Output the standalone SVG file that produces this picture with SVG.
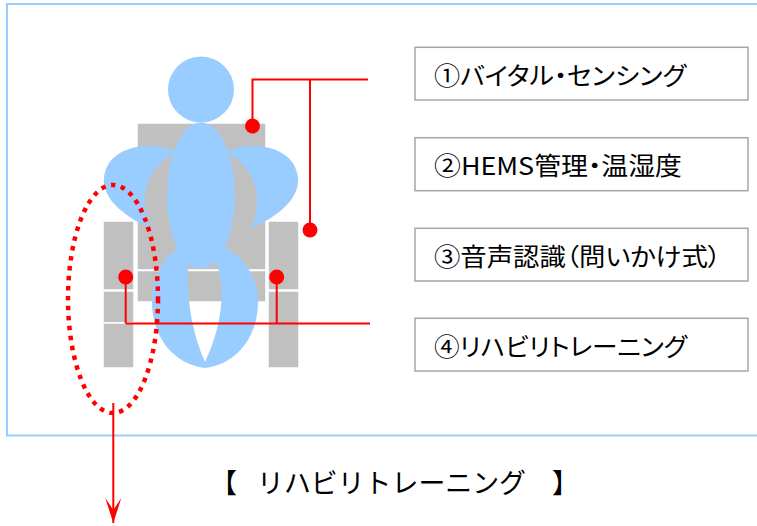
<svg xmlns="http://www.w3.org/2000/svg" width="757" height="526" viewBox="0 0 757 526">
  <defs>
    <style>
      .frame { fill: none; stroke: #99CCFF; stroke-width: 2; }
      .chair { fill: #C0C0C0; stroke: #FFFFFF; stroke-width: 1.5; }
      .body { fill: #99CCFF; stroke: none; }
      .wire { fill: none; stroke: #FF0000; stroke-width: 2; }
      .dot { fill: #FF0000; }
      .box { fill: #FFFFFF; stroke: #A6A6A6; stroke-width: 1.5; }
      .label { font-family: "Noto Sans CJK JP", "Liberation Sans", sans-serif; font-size: 24.5px; fill: #000000; dominant-baseline: central; font-feature-settings: "palt" 1; }
      .title { font-family: "Noto Sans CJK JP", "Liberation Sans", sans-serif; font-size: 27px; fill: #000000; dominant-baseline: central; }
    </style>
    <marker id="arrowhead" markerUnits="userSpaceOnUse" markerWidth="26" markerHeight="18" refX="25" refY="8" orient="auto" viewBox="0 0 26 16">
      <path d="M25 8 L0 0 L12 8 L0 16 Z" fill="#FF0000"/>
    </marker>
  </defs>

  <!-- outer panel -->
  <rect class="frame" x="7" y="4" width="760" height="431.5"/>

  <!-- wheelchair and seated person -->
  <g id="figure">
    <g id="chair">
      <rect class="chair" x="137" y="123" width="129" height="147"/>
      <rect class="chair" x="137" y="270.5" width="129" height="31.5"/>
      <rect class="chair" x="103" y="221" width="31" height="69"/>
      <rect class="chair" x="103" y="291" width="31" height="32"/>
      <rect class="chair" x="103" y="323" width="31" height="45"/>
      <rect class="chair" x="268" y="221" width="31" height="69"/>
      <rect class="chair" x="268" y="291" width="31" height="77"/>
    </g>
    <g id="person">
      <circle class="body" cx="201" cy="89.5" r="33"/>
      <path class="body" d="M226 152 C250 140 295 145 298 178 C300 200 275 218 250 229 C262 210 262 170 226 152 Z"/>
      <path class="body" d="M176 152 C152 140 107 145 104 178 C102 200 127 218 152 229 C140 210 140 170 176 152 Z"/>
      <ellipse class="body" cx="201" cy="195.5" rx="34" ry="73"/>
      <path class="body" fill-rule="evenodd" d="M205 368 C172 364 152 335 152 302 C152 272 168 250 188 243 L214 243 C238 250 258 272 258 302 C258 335 238 364 205 368 Z M188 265 C186 300 193 335 205 362 C220 330 228 290 215 260 Z"/>
    </g>
  </g>

  <!-- connectors -->
  <g id="connectors">
    <polyline class="wire" points="252.5,126 252.5,79.5 368,79.5"/>
    <line class="wire" x1="310" y1="79.5" x2="310" y2="230"/>
    <circle class="dot" cx="252.5" cy="126" r="7.5"/>
    <circle class="dot" cx="310" cy="230" r="7.5"/>
    <line class="wire" x1="125.7" y1="277" x2="125.7" y2="323.5"/>
    <line class="wire" x1="276.7" y1="277" x2="276.7" y2="323.5"/>
    <line class="wire" x1="125.7" y1="323.5" x2="370" y2="323.5"/>
    <circle class="dot" cx="125.7" cy="277" r="7.5"/>
    <circle class="dot" cx="276.7" cy="277" r="7.5"/>
    <ellipse cx="113" cy="299" rx="45" ry="114" fill="none" stroke="#FF0000" stroke-width="4.5" stroke-dasharray="4.5 5.5"/>
    <line class="wire" x1="113.3" y1="403" x2="113.3" y2="523" marker-end="url(#arrowhead)"/>
  </g>

  <!-- feature labels -->
  <g id="label1">
    <rect class="box" x="415" y="47.3" width="333" height="52.7"/>
    <text class="label" x="434" y="74" textLength="252" lengthAdjust="spacingAndGlyphs">①バイタル・センシング</text>
  </g>
  <g id="label2">
    <rect class="box" x="415" y="137.7" width="333" height="53"/>
    <text class="label" x="434" y="164.5" textLength="248" lengthAdjust="spacingAndGlyphs">②HEMS管理・温湿度</text>
  </g>
  <g id="label3">
    <rect class="box" x="415" y="228.3" width="333" height="52.7"/>
    <text class="label" x="434" y="255" textLength="287" lengthAdjust="spacingAndGlyphs">③音声認識（問いかけ式）</text>
  </g>
  <g id="label4">
    <rect class="box" x="415" y="318.3" width="333" height="52.7"/>
    <text class="label" x="434" y="345" textLength="253" lengthAdjust="spacingAndGlyphs">④リハビリトレーニング</text>
  </g>

  <!-- caption -->
  <g id="caption">
    <text class="title" y="481"><tspan x="210">【</tspan><tspan x="257" textLength="269" lengthAdjust="spacingAndGlyphs">リハビリトレーニング</tspan><tspan x="552">】</tspan></text>
  </g>
</svg>
